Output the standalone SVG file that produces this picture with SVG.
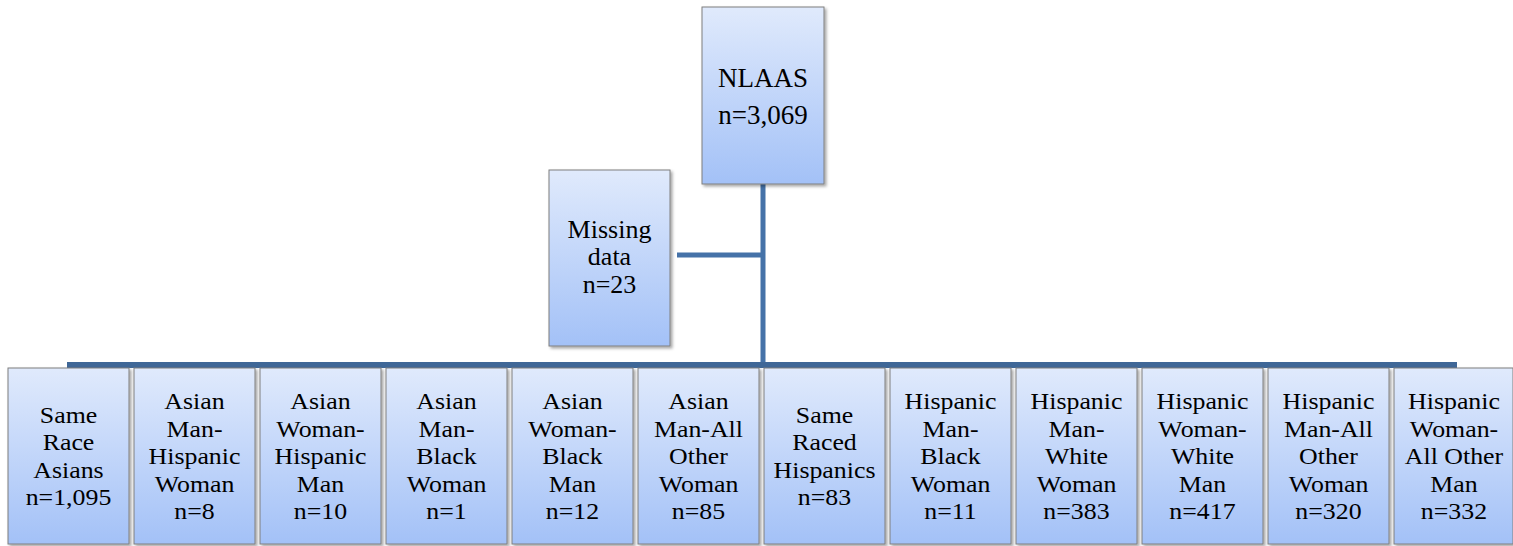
<svg xmlns="http://www.w3.org/2000/svg" width="1513" height="546" viewBox="0 0 1513 546">
<defs>
<linearGradient id="g" x1="0" y1="0" x2="0" y2="1">
<stop offset="0" stop-color="#e0eafc"/>
<stop offset="1" stop-color="#a3c1f7"/>
</linearGradient>
<filter id="sh" x="-10%" y="-10%" width="130%" height="130%">
<feDropShadow dx="2" dy="2" stdDeviation="1.5" flood-color="#000" flood-opacity="0.35"/>
</filter>
</defs>
<style>
.box{fill:url(#g);stroke:#7f7f7f;stroke-width:1;filter:url(#sh)}
text{fill:#000;text-anchor:middle}
.big{font-size:26px}
.top{font-size:27px}
.sm{font-size:23.5px}
.ln{stroke:#4572a8;stroke-width:5;fill:none}
.bar{stroke:#3f6797;stroke-width:6;fill:none}
</style>
<rect width="1513" height="546" fill="#fff"/>
<g id="connectors">
<line class="ln" x1="763" y1="184" x2="763" y2="365"/>
<line class="ln" x1="677" y1="255" x2="763" y2="255"/>
<line class="bar" x1="67" y1="365" x2="1457" y2="365"/>
</g>
<g id="n_nlaas">
<rect class="box" x="702" y="7" width="122" height="177"/>
<text class="top" font-family="Liberation Serif"><tspan x="763" y="87">NLAAS</tspan><tspan x="763" y="124">n=3,069</tspan></text>
</g>
<g id="n_missing">
<rect class="box" x="549" y="170" width="121" height="176"/>
<text class="big" font-family="Liberation Serif"><tspan x="609.5" y="238">Missing</tspan><tspan x="609.5" y="265">data</tspan><tspan x="609.5" y="292.5">n=23</tspan></text>
</g>
<g id="n1">
<rect class="box" x="8" y="368" width="121" height="176"/>
<text class="sm" font-family="Liberation Serif" transform="translate(68.5 0) scale(1.1 1)"><tspan x="0" y="423">Same</tspan><tspan x="0" y="450.5">Race</tspan><tspan x="0" y="478">Asians</tspan><tspan x="0" y="505.5">n=1,095</tspan></text>
</g>
<g id="n2">
<rect class="box" x="134" y="368" width="121" height="176"/>
<text class="sm" font-family="Liberation Serif" transform="translate(194.5 0) scale(1.1 1)"><tspan x="0" y="409.5">Asian</tspan><tspan x="0" y="437">Man-</tspan><tspan x="0" y="464.5">Hispanic</tspan><tspan x="0" y="492">Woman</tspan><tspan x="0" y="519.5">n=8</tspan></text>
</g>
<g id="n3">
<rect class="box" x="260" y="368" width="121" height="176"/>
<text class="sm" font-family="Liberation Serif" transform="translate(320.5 0) scale(1.1 1)"><tspan x="0" y="409.5">Asian</tspan><tspan x="0" y="437">Woman-</tspan><tspan x="0" y="464.5">Hispanic</tspan><tspan x="0" y="492">Man</tspan><tspan x="0" y="519.5">n=10</tspan></text>
</g>
<g id="n4">
<rect class="box" x="386" y="368" width="121" height="176"/>
<text class="sm" font-family="Liberation Serif" transform="translate(446.5 0) scale(1.1 1)"><tspan x="0" y="409.5">Asian</tspan><tspan x="0" y="437">Man-</tspan><tspan x="0" y="464.5">Black</tspan><tspan x="0" y="492">Woman</tspan><tspan x="0" y="519.5">n=1</tspan></text>
</g>
<g id="n5">
<rect class="box" x="512" y="368" width="121" height="176"/>
<text class="sm" font-family="Liberation Serif" transform="translate(572.5 0) scale(1.1 1)"><tspan x="0" y="409.5">Asian</tspan><tspan x="0" y="437">Woman-</tspan><tspan x="0" y="464.5">Black</tspan><tspan x="0" y="492">Man</tspan><tspan x="0" y="519.5">n=12</tspan></text>
</g>
<g id="n6">
<rect class="box" x="638" y="368" width="121" height="176"/>
<text class="sm" font-family="Liberation Serif" transform="translate(698.5 0) scale(1.1 1)"><tspan x="0" y="409.5">Asian</tspan><tspan x="0" y="437">Man-All</tspan><tspan x="0" y="464.5">Other</tspan><tspan x="0" y="492">Woman</tspan><tspan x="0" y="519.5">n=85</tspan></text>
</g>
<g id="n7">
<rect class="box" x="764" y="368" width="121" height="176"/>
<text class="sm" font-family="Liberation Serif" transform="translate(824.5 0) scale(1.1 1)"><tspan x="0" y="423">Same</tspan><tspan x="0" y="450.5">Raced</tspan><tspan x="0" y="478">Hispanics</tspan><tspan x="0" y="505.5">n=83</tspan></text>
</g>
<g id="n8">
<rect class="box" x="890" y="368" width="121" height="176"/>
<text class="sm" font-family="Liberation Serif" transform="translate(950.5 0) scale(1.1 1)"><tspan x="0" y="409.5">Hispanic</tspan><tspan x="0" y="437">Man-</tspan><tspan x="0" y="464.5">Black</tspan><tspan x="0" y="492">Woman</tspan><tspan x="0" y="519.5">n=11</tspan></text>
</g>
<g id="n9">
<rect class="box" x="1016" y="368" width="121" height="176"/>
<text class="sm" font-family="Liberation Serif" transform="translate(1076.5 0) scale(1.1 1)"><tspan x="0" y="409.5">Hispanic</tspan><tspan x="0" y="437">Man-</tspan><tspan x="0" y="464.5">White</tspan><tspan x="0" y="492">Woman</tspan><tspan x="0" y="519.5">n=383</tspan></text>
</g>
<g id="n10">
<rect class="box" x="1142" y="368" width="121" height="176"/>
<text class="sm" font-family="Liberation Serif" transform="translate(1202.5 0) scale(1.1 1)"><tspan x="0" y="409.5">Hispanic</tspan><tspan x="0" y="437">Woman-</tspan><tspan x="0" y="464.5">White</tspan><tspan x="0" y="492">Man</tspan><tspan x="0" y="519.5">n=417</tspan></text>
</g>
<g id="n11">
<rect class="box" x="1268" y="368" width="121" height="176"/>
<text class="sm" font-family="Liberation Serif" transform="translate(1328.5 0) scale(1.1 1)"><tspan x="0" y="409.5">Hispanic</tspan><tspan x="0" y="437">Man-All</tspan><tspan x="0" y="464.5">Other</tspan><tspan x="0" y="492">Woman</tspan><tspan x="0" y="519.5">n=320</tspan></text>
</g>
<g id="n12">
<rect class="box" x="1394" y="368" width="119" height="176"/>
<text class="sm" font-family="Liberation Serif" transform="translate(1454 0) scale(1.1 1)"><tspan x="0" y="409.5">Hispanic</tspan><tspan x="0" y="437">Woman-</tspan><tspan x="0" y="464.5">All Other</tspan><tspan x="0" y="492">Man</tspan><tspan x="0" y="519.5">n=332</tspan></text>
</g>
</svg>
